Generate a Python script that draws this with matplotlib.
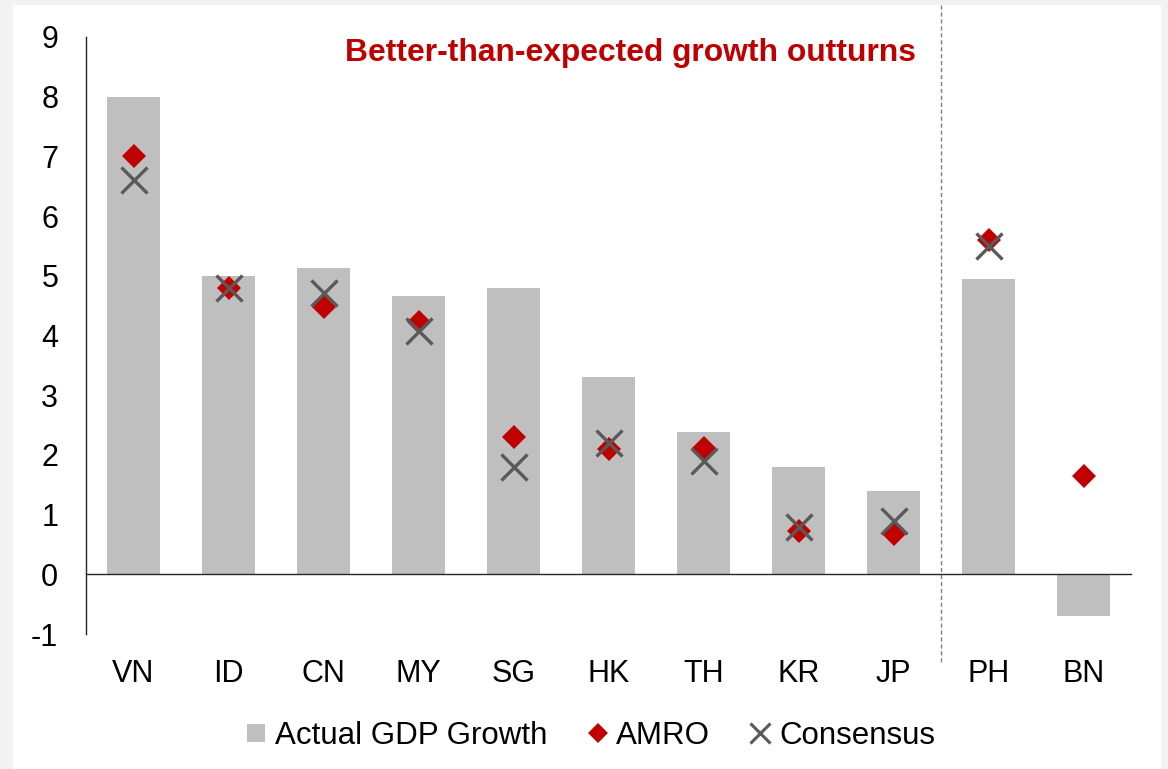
import numpy as np
import matplotlib.pyplot as plt
from matplotlib.patches import Rectangle
from matplotlib.lines import Line2D

plt.rcParams['font.family'] = ['Liberation Sans', 'DejaVu Sans']

# data
countries = ["VN", "ID", "CN", "MY", "SG", "HK", "TH", "KR", "JP", "PH", "BN"]
actual = [8.0, 5.0, 5.13, 4.66, 4.79, 3.31, 2.39, 1.80, 1.39, 4.94, -0.70]
amro = [7.0, 4.8, 4.48, 4.22, 2.30, 2.10, 2.12, 0.73, 0.67, 5.60, 1.65]
consensus = [6.6, 4.8, 4.72, 4.07, 1.80, 2.20, 1.90, 0.80, 0.90, 5.50, np.nan]
yticks = [-1, 0, 1, 2, 3, 4, 5, 6, 7, 8, 9]

bar_col = "#bfbfbf"
red = "#c00000"
xcol = "#595959"

fig = plt.figure(figsize=(11.68, 7.69), dpi=100)
fig.patch.set_facecolor("#f2f2f2")
# white panel
fig.patches.append(Rectangle((13 / 1168, 0), (1161 - 13) / 1168, (769 - 5) / 769,
                             transform=fig.transFigure, facecolor="white",
                             edgecolor="none", zorder=-10))

ax = fig.add_axes([86 / 1168, 1 - 634 / 769, 1045 / 1168, 597 / 769])
ax.set_facecolor("none")

x = np.arange(len(countries))
ax.bar(x, actual, width=0.56, color=bar_col, zorder=2)
ax.plot(x, amro, linestyle="none", marker="D", markersize=12.5,
        color=red, markeredgewidth=0, zorder=3)
ax.plot(x, consensus, linestyle="none", marker="x", markersize=19,
        markeredgewidth=2.4, color=xcol, zorder=4)

ax.set_xlim(-0.5, len(countries) - 0.5)
ax.set_ylim(-1, 9)
ax.set_yticks(yticks)
ax.set_yticklabels([str(t) for t in yticks])
ax.set_xticks(x)
ax.set_xticklabels(countries)
ax.tick_params(axis="y", length=0, pad=20, labelsize=22)
ax.tick_params(axis="x", length=0, pad=61, labelsize=22)

for s in ["top", "right"]:
    ax.spines[s].set_visible(False)
ax.spines["bottom"].set_position(("data", 0))
ax.spines["bottom"].set_color("#262626")
ax.spines["left"].set_color("#262626")
ax.spines["bottom"].set_linewidth(1)
ax.spines["left"].set_linewidth(1)

# separator between groups
ax.plot([8.5, 8.5], [1.054, -0.047], transform=ax.get_xaxis_transform(),
        color="#808080", linestyle=(0, (3, 2)), linewidth=1, clip_on=False, zorder=1)

ax.text(0.5206, 0.974, "Better-than-expected growth outturns", transform=ax.transAxes,
        ha="center", va="center", color=red, fontsize=22.9, fontweight="bold")

handles = [
    Line2D([], [], linestyle="none", marker="s", markersize=12.5, color=bar_col, markeredgewidth=0),
    Line2D([], [], linestyle="none", marker="D", markersize=10, color=red, markeredgewidth=0),
    Line2D([], [], linestyle="none", marker="x", markersize=14, color=xcol, markeredgewidth=2.2),
]
fig.legend(handles, ["Actual GDP Growth", "AMRO", "Consensus"], loc="center",
           bbox_to_anchor=(0.506, 0.043), ncol=3, frameon=False, fontsize=22.5,
           handlelength=0.6, handletextpad=0.3, columnspacing=1.3)

fig.savefig("out.png", dpi=100, facecolor=fig.get_facecolor())
